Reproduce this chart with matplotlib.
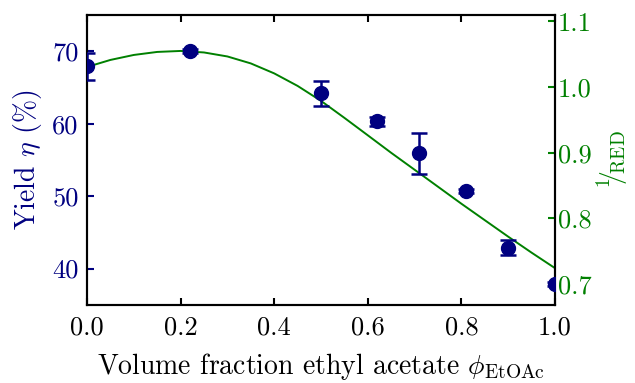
import matplotlib
matplotlib.use("Agg")
import matplotlib.pyplot as plt

plt.rcParams['font.family'] = 'cmr10'
plt.rcParams['mathtext.fontset'] = 'cm'
plt.rcParams['axes.formatter.use_mathtext'] = True

# measured yield
phi = [0.0, 0.22, 0.50, 0.62, 0.71, 0.81, 0.90, 1.00]
yield_pct = [67.9, 70.0, 64.2, 60.3, 55.9, 50.7, 42.9, 37.9]
yield_err = [1.9, 0.3, 1.7, 0.6, 2.8, 0.3, 1.0, 0.3]

# 1/RED curve
phi_curve = [0.0, 0.05, 0.10, 0.15, 0.20, 0.25, 0.30, 0.35, 0.40, 0.45, 0.50,
             0.55, 0.60, 0.65, 0.70, 0.75, 0.80, 0.85, 0.90, 0.95, 1.00]
inv_red = [1.0307, 1.0414, 1.0490, 1.0536, 1.0551, 1.0528, 1.0467, 1.0361,
           1.0209, 1.0018, 0.9790, 0.9531, 0.9265, 0.8998, 0.8740, 0.8481,
           0.8222, 0.7971, 0.7720, 0.7476, 0.7240]

navy = '#000080'
green = '#008000'

fig = plt.figure(figsize=(6.35, 3.83), dpi=100)
ax = fig.add_axes([0.137, 0.204, 0.737, 0.757])
ax2 = ax.twinx()

ax2.plot(phi_curve, inv_red, color=green, lw=1.4)
ax.errorbar(phi, yield_pct, yerr=yield_err, fmt='o', color=navy, ms=10,
            capsize=6, elinewidth=1.8, capthick=1.8, zorder=5)
ax.set_zorder(ax2.get_zorder() + 1)
ax.patch.set_visible(False)

ax.set_xlim(0, 1)
ax.set_ylim(35, 75)
ax2.set_ylim(0.668, 1.11)
ax.set_xticks([0.0, 0.2, 0.4, 0.6, 0.8, 1.0])
ax.set_yticks([40, 50, 60, 70])
ax2.set_yticks([0.7, 0.8, 0.9, 1.0, 1.1])
ax.set_xticklabels(['0.0', '0.2', '0.4', '0.6', '0.8', '1.0'])
ax.set_yticklabels(['40', '50', '60', '70'])
ax2.set_yticklabels(['0.7', '0.8', '0.9', '1.0', '1.1'])

ax.tick_params(axis='x', direction='in', top=True, length=5, width=1.5,
               labelsize=19, pad=8)
ax.tick_params(axis='y', direction='in', length=5, width=1.5, color=navy,
               labelcolor=navy, labelsize=19, pad=6)
ax2.tick_params(axis='y', direction='in', length=5, width=1.5, color=green,
                labelcolor=green, labelsize=19, pad=2)
for a in (ax, ax2):
    for s in a.spines.values():
        s.set_linewidth(1.5)

ax.set_xlabel(r'Volume fraction ethyl acetate $\phi_{\mathrm{EtOAc}}$', fontsize=20, labelpad=8)
ax.set_ylabel(r'Yield $\eta$ (%)', color=navy, fontsize=20, labelpad=6)
ax2.set_ylabel(r'${}^{1}\!\!/\!{}_{\mathrm{RED}}$', color=green, fontsize=20, labelpad=2)

fig.savefig('out.png', dpi=100)
